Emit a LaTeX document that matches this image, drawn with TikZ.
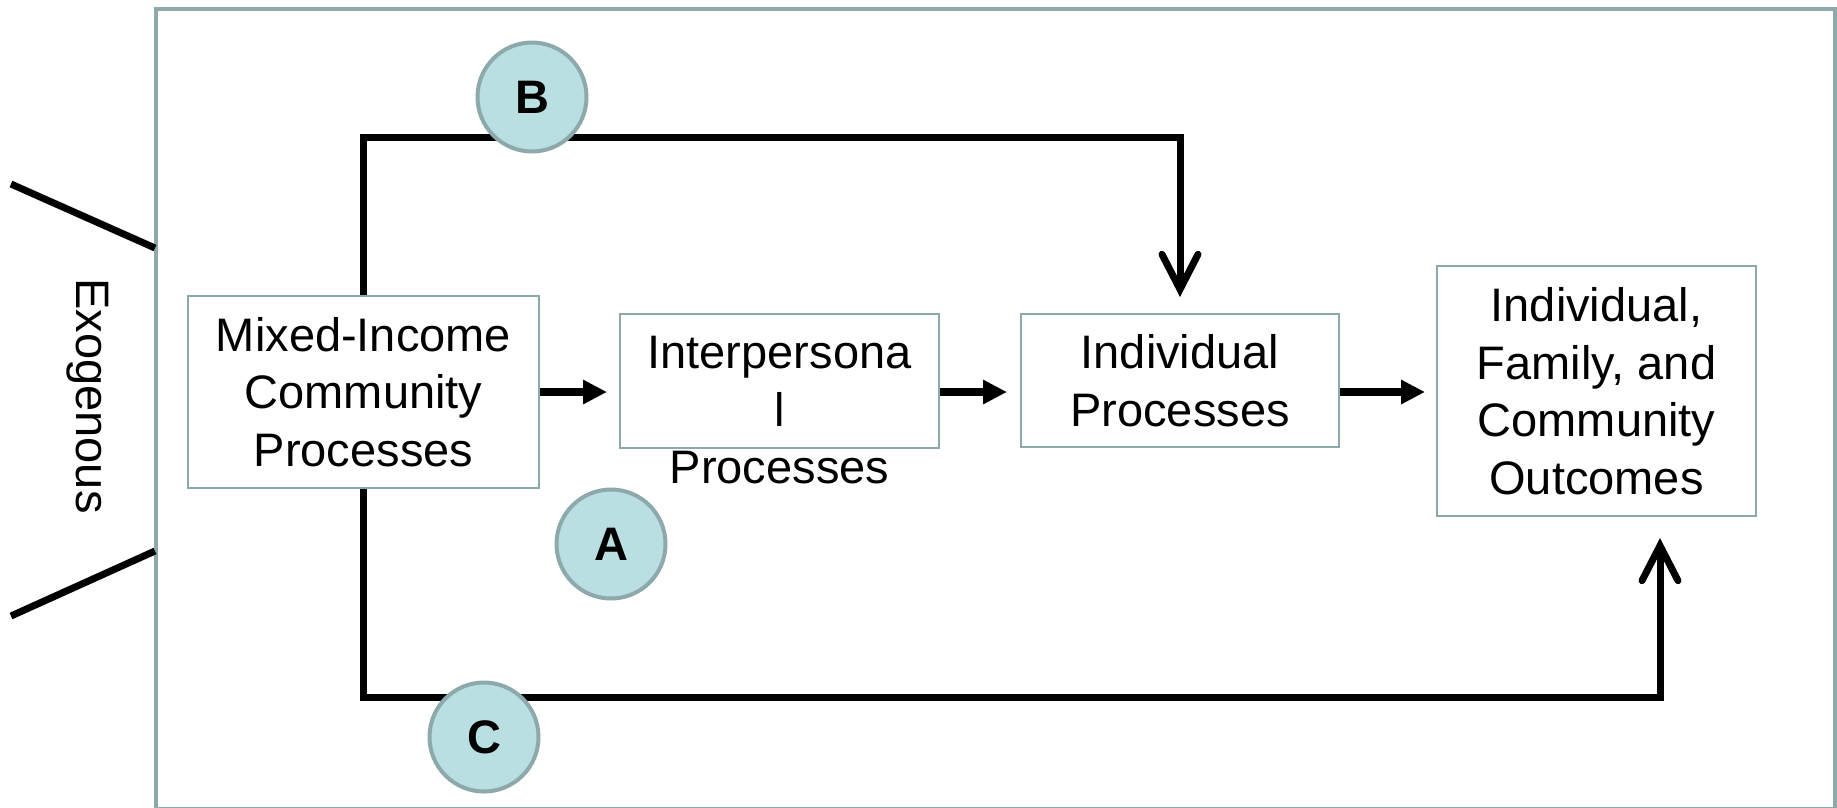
\documentclass[tikz,border=0pt]{standalone}
\usepackage{fontspec}
\setmainfont{Liberation Sans}
\usetikzlibrary{arrows.meta}
\definecolor{framegray}{HTML}{8DA9AB}
\definecolor{circfill}{HTML}{BADFE2}
\begin{document}
\begin{tikzpicture}[x=1pt,y=-1pt,
  bigfont/.style={font=\fontsize{47}{57.5}\selectfont},
  boxnode/.style={draw=framegray,line width=2pt,inner sep=0pt,align=center,bigfont},
  plaintext/.style={inner sep=0pt,align=center,bigfont},
  letter/.style={circle,draw=framegray,line width=4pt,fill=circfill,minimum size=109pt,inner sep=0pt,font=\fontsize{47}{57.5}\selectfont\bfseries},
  harrow/.style={line width=8pt,-{Triangle[length=24pt,width=23pt]}},
  bracket/.style={line width=7pt,-{Straight Barb[length=35pt,width=36pt,line cap=round]}},
  diag/.style={line width=7pt}
]
\useasboundingbox (0,0) rectangle (1837,807);
% outer frame
\draw[framegray,line width=4pt] (155.5,9) rectangle (1834.5,808.5);
% exogenous marks
\coordinate (d1a) at (11,184);
\coordinate (d1b) at (155,248);
\coordinate (d2a) at (11,616);
\coordinate (d2b) at (155,551);
\draw[diag] (d1a) -- (d1b);
\draw[diag] (d2a) -- (d2b);
\node[plaintext,rotate=-90] (exo) at (88,396) {Exogenous};
% boxes
\node[boxnode,minimum width=351pt,minimum height=192pt] (mic) at (363.5,392) {Mixed-Income\\Community\\Processes};
\node[boxnode,minimum width=319pt,minimum height=134pt] (ip) at (779.5,381) {};
\node[plaintext] (iptext) at (779.5,410.5) {Interpersona\\l\\Processes};
\node[boxnode,minimum width=318pt,minimum height=133pt] (ind) at (1180,380.5) {Individual\\Processes};
\node[boxnode,minimum width=319pt,minimum height=250pt] (out) at (1596.5,391) {Individual,\\Family, and\\Community\\Outcomes};
% horizontal arrows
\draw[harrow,shorten >=12pt] (mic.east) -- (ip.west |- mic.east);
\draw[harrow,shorten >=13pt] (ip.east |- mic.east) -- (ind.west |- mic.east);
\draw[harrow,shorten >=11pt] (ind.east |- mic.east) -- (out.west |- mic.east);
% bracket paths
\coordinate (bturn) at (1180,137);
\coordinate (cturn) at (1660,697);
\draw[bracket,shorten >=16pt] (mic.north) |- (bturn) -- (ind.north);
\draw[bracket,shorten >=21pt] (mic.south) |- (cturn) -- (cturn |- out.south);
% letter circles
\node[letter] (cb) at (532,97) {B};
\node[letter] (ca) at (611,544) {A};
\node[letter] (cc) at (484,737) {C};
\end{tikzpicture}
\end{document}
